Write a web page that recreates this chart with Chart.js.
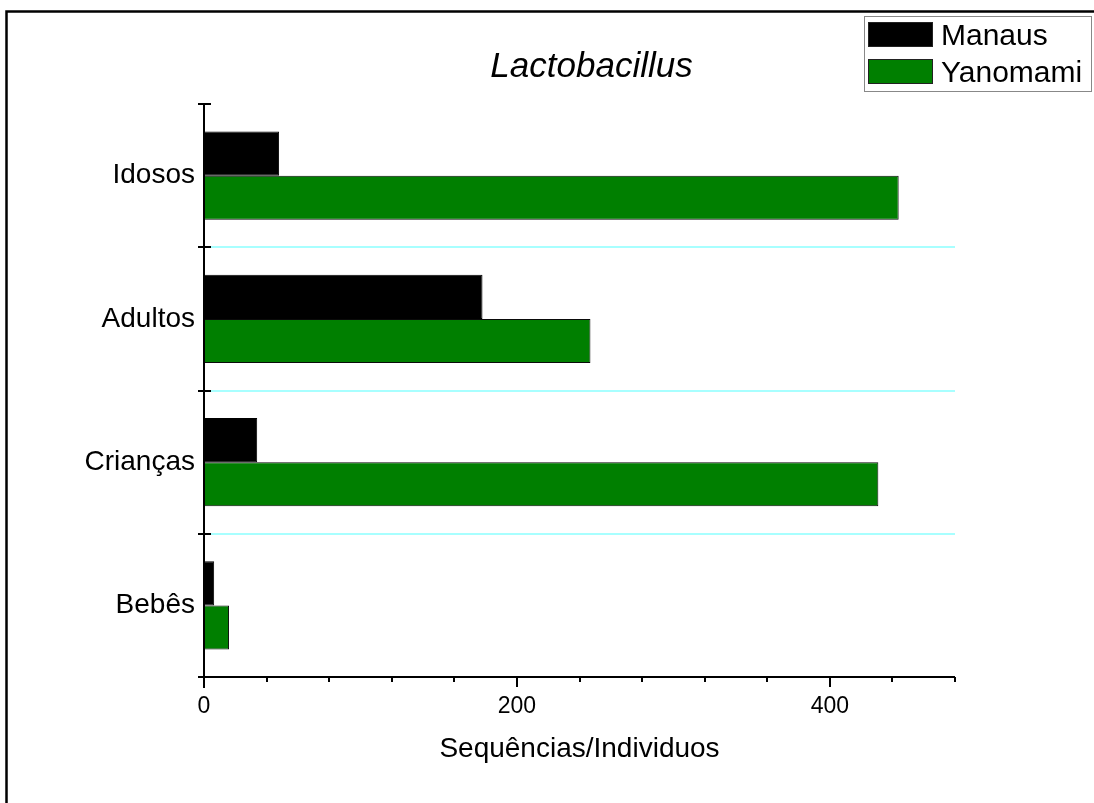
<!DOCTYPE html>
<html>
<head>
<meta charset="utf-8">
<style>
  html, body { margin: 0; padding: 0; background: #ffffff; }
  canvas { display: block; }
</style>
<script src="https://cdn.jsdelivr.net/npm/chart.js@4/dist/chart.umd.min.js"></script>
</head>
<body>
<canvas id="chart" width="1094" height="803"></canvas>
<script>
// Lactobacillus sequences per individual, by age group and population
const chartTitle = 'Lactobacillus';
const categories = ['Idosos', 'Adultos', 'Crianças', 'Bebês'];
const seriesNames = ['Manaus', 'Yanomami'];
const manausValues = [48, 178, 34, 6.5];
const yanomamiValues = [444, 247, 431, 16];
const xTickLabels = [0, 200, 400];
const xAxisTitle = 'Sequências/Individuos';

const FONT = '"Liberation Sans", Arial, sans-serif';

// Frame, title, legend box, separators and axis tick marks
const decorations = {
  id: 'decorations',
  beforeDatasetsDraw(chart) {
    const ctx = chart.ctx;
    const area = chart.chartArea;
    const ys = chart.scales.y;
    // light cyan separators between the age groups
    ctx.save();
    ctx.strokeStyle = '#8cffff';
    ctx.lineWidth = 1.5;
    ctx.beginPath();
    for (let i = 1; i < categories.length; i++) {
      const py = Math.round(ys.getPixelForValue(i - 0.5));
      ctx.moveTo(area.left + 7, py);
      ctx.lineTo(area.right, py);
    }
    ctx.stroke();
    ctx.restore();
  },
  afterDraw(chart) {
    const ctx = chart.ctx;
    const area = chart.chartArea;
    const xs = chart.scales.x;
    const ys = chart.scales.y;
    ctx.save();

    // outer frame (top and left edges)
    ctx.strokeStyle = '#000';
    ctx.lineWidth = 2.5;
    ctx.beginPath();
    ctx.moveTo(1094, 11.5);
    ctx.lineTo(6.5, 11.5);
    ctx.lineTo(6.5, 803);
    ctx.stroke();

    // title
    ctx.fillStyle = '#000';
    ctx.font = 'italic 35px ' + FONT;
    ctx.textAlign = 'center';
    ctx.textBaseline = 'alphabetic';
    ctx.fillText(chartTitle, (area.left + area.right) / 2 + 12, 77);

    // legend box
    ctx.fillStyle = '#fff';
    ctx.fillRect(864, 16, 228, 76);
    ctx.strokeStyle = '#888';
    ctx.lineWidth = 1;
    ctx.strokeRect(864.5, 16.5, 227, 75);
    chart.data.datasets.forEach((ds, i) => {
      const top = 22 + i * 37;
      ctx.fillStyle = ds.backgroundColor;
      ctx.fillRect(868, top, 65, 25);
      ctx.strokeStyle = '#222';
      ctx.strokeRect(868.5, top + 0.5, 64, 24);
      ctx.fillStyle = '#000';
      ctx.font = '30px ' + FONT;
      ctx.textAlign = 'left';
      ctx.textBaseline = 'alphabetic';
      ctx.fillText(ds.label, 941, top + 23);
    });

    // axis lines extended past the corner
    ctx.strokeStyle = '#000';
    ctx.lineWidth = 2;
    ctx.beginPath();
    ctx.moveTo(area.left, area.top);
    ctx.lineTo(area.left, area.bottom + 11);
    ctx.moveTo(area.left - 6, area.bottom);
    ctx.lineTo(area.right, area.bottom);
    ctx.stroke();

    // x ticks: long at labelled values, short otherwise
    ctx.lineWidth = 2;
    ctx.beginPath();
    xs.ticks.forEach(t => {
      const px = Math.round(xs.getPixelForValue(t.value));
      const len = xTickLabels.includes(t.value) ? 10 : 5;
      ctx.moveTo(px, area.bottom);
      ctx.lineTo(px, area.bottom + len);
    });
    ctx.stroke();

    // y ticks at category boundaries, crossing the axis
    ctx.beginPath();
    for (let i = 0; i <= categories.length; i++) {
      const py = Math.round(ys.getPixelForValue(i - 0.5));
      ctx.moveTo(area.left - 6, py);
      ctx.lineTo(area.left + 7, py);
    }
    ctx.stroke();

    // x axis title
    ctx.fillStyle = '#000';
    ctx.font = '28px ' + FONT;
    ctx.textAlign = 'center';
    ctx.textBaseline = 'middle';
    ctx.fillText(xAxisTitle, (area.left + area.right) / 2, 749);
    ctx.restore();
  }
};

new Chart(document.getElementById('chart'), {
  type: 'bar',
  data: {
    labels: categories,
    datasets: [
      {
        label: seriesNames[0],
        data: manausValues,
        backgroundColor: '#000000',
        borderColor: '#000000',
        borderWidth: 1,
        borderSkipped: false
      },
      {
        label: seriesNames[1],
        data: yanomamiValues,
        backgroundColor: '#007f00',
        borderColor: '#0a0a0a',
        borderWidth: 1,
        borderSkipped: false
      }
    ]
  },
  options: {
    indexAxis: 'y',
    responsive: false,
    animation: false,
    events: [],
    layout: { padding: { left: 0, right: 139, top: 104, bottom: 0 } },
    datasets: {
      bar: { categoryPercentage: 0.615, barPercentage: 1.0 }
    },
    plugins: {
      legend: { display: false },
      title: { display: false },
      tooltip: { enabled: false }
    },
    scales: {
      x: {
        type: 'linear',
        min: 0,
        max: 480,
        afterFit(scale) { scale.height = 126; },
        grid: { display: false, drawTicks: false },
        border: { display: false },
        ticks: {
          stepSize: 40,
          padding: 16,
          color: '#000',
          font: { family: FONT, size: 23 },
          callback: v => (xTickLabels.includes(v) ? String(v) : '')
        }
      },
      y: {
        type: 'category',
        afterFit(scale) { scale.width = 204; },
        grid: { display: false, drawTicks: false },
        border: { display: false },
        ticks: {
          padding: 9,
          color: '#000',
          font: { family: FONT, size: 28 }
        }
      }
    }
  },
  plugins: [decorations]
});
</script>
</body>
</html>
